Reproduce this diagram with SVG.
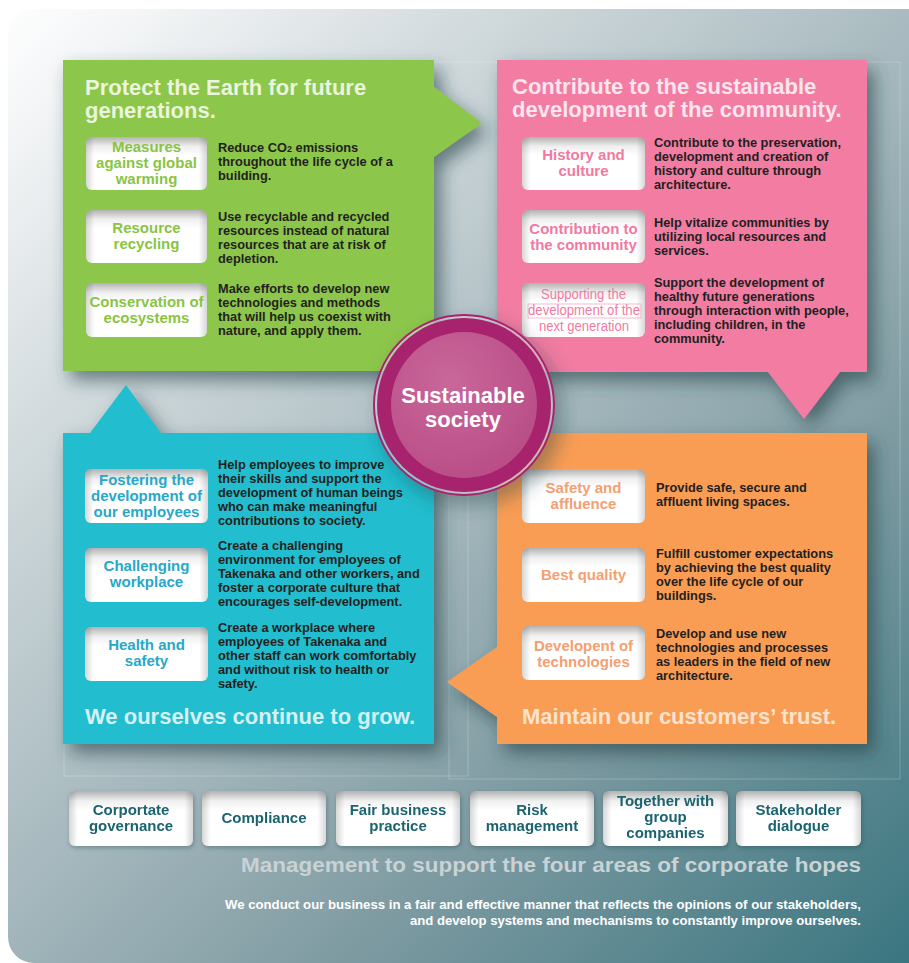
<svg xmlns="http://www.w3.org/2000/svg" width="909" height="963" viewBox="0 0 909 963">
<defs>
<linearGradient id="bg" gradientUnits="userSpaceOnUse" x1="0" y1="0" x2="909" y2="963">
<stop offset="0" stop-color="#ffffff"/>
<stop offset="0.08" stop-color="#f3f5f6"/>
<stop offset="0.25" stop-color="#d3dbde"/>
<stop offset="0.49" stop-color="#a8babf"/>
<stop offset="0.71" stop-color="#7d9aa1"/>
<stop offset="1" stop-color="#3a7680"/>
</linearGradient>
<linearGradient id="shV" x1="0" y1="0" x2="0" y2="1">
<stop offset="0" stop-color="#000" stop-opacity="0.3"/>
<stop offset="0.18" stop-color="#000" stop-opacity="0.06"/>
<stop offset="0.35" stop-color="#000" stop-opacity="0"/>
</linearGradient>
<linearGradient id="shH" x1="0" y1="0" x2="1" y2="0">
<stop offset="0" stop-color="#000" stop-opacity="0.16"/>
<stop offset="0.07" stop-color="#000" stop-opacity="0"/>
<stop offset="0.93" stop-color="#000" stop-opacity="0"/>
<stop offset="1" stop-color="#000" stop-opacity="0.16"/>
</linearGradient>
<radialGradient id="core" cx="0.4" cy="0.35" r="0.7">
<stop offset="0" stop-color="#c9679a"/>
<stop offset="1" stop-color="#b94d86"/>
</radialGradient>
<filter id="drop" x="-20%" y="-20%" width="150%" height="150%">
<feDropShadow dx="7" dy="9" stdDeviation="9" flood-color="#1b3a40" flood-opacity="0.6"/>
</filter>
<filter id="btnDrop" x="-20%" y="-20%" width="140%" height="150%">
<feDropShadow dx="1" dy="2" stdDeviation="2" flood-color="#1b3a40" flood-opacity="0.35"/>
</filter>
<style>
text{font-family:"Liberation Sans",Arial,sans-serif;font-weight:bold}
.title{font-size:22px}
.desc{font-size:12.8px;fill:#231f20}
.lbl{font-size:15px;text-anchor:middle}
.btn{font-size:15px;fill:#1b6470;text-anchor:middle}
.box{fill:#ffffff}
.sv{fill:url(#shV)}
.sh{fill:url(#shH)}
.guide{fill:none;stroke:#ffffff;stroke-opacity:0.22;stroke-width:1}
.g-l{fill:#8ac443}
.p-l{fill:#f07aa0}
.c-l{fill:#27a8c8}
.o-l{fill:#f3a072}
.cond{font-weight:normal;font-size:15.5px}
</style>
</defs>

<rect x="8" y="9" width="930" height="954" rx="26" fill="url(#bg)"/>
<path class="guide" d="M434,62 H497 M867,62 H900 V779 M64,430 V776 H468 V430 M449,430 V779 H900"/>

<g id="panel-earth">
<path d="M63,60 H434 V87 L482,123 L434,157 V371 H63 Z" fill="#8cc64b" filter="url(#drop)"/>
<text class="title" fill="#eaf5dc" x="85" y="95">Protect the Earth for future</text>
<text class="title" fill="#eaf5dc" x="85" y="118">generations.</text>
<g id="item-warming">
<rect class="box" x="86" y="137" width="121" height="53" rx="6"/><rect class="sv" x="86" y="137" width="121" height="53" rx="6"/><rect class="sh" x="86" y="137" width="121" height="53" rx="6"/>
<text class="lbl g-l" x="146.5" y="152">Measures</text>
<text class="lbl g-l" x="146.5" y="168">against global</text>
<text class="lbl g-l" x="146.5" y="184">warming</text>
<text class="desc" x="218" y="152">Reduce CO<tspan font-size="9">2</tspan> emissions</text>
<text class="desc" x="218" y="166">throughout the life cycle of a</text>
<text class="desc" x="218" y="180">building.</text>
</g>
<g id="item-recycling">
<rect class="box" x="86" y="210" width="121" height="53" rx="6"/><rect class="sv" x="86" y="210" width="121" height="53" rx="6"/><rect class="sh" x="86" y="210" width="121" height="53" rx="6"/>
<text class="lbl g-l" x="146.5" y="233">Resource</text>
<text class="lbl g-l" x="146.5" y="249">recycling</text>
<text class="desc" x="218" y="221">Use recyclable and recycled</text>
<text class="desc" x="218" y="235">resources instead of natural</text>
<text class="desc" x="218" y="249">resources that are at risk of</text>
<text class="desc" x="218" y="263">depletion.</text>
</g>
<g id="item-ecosystems">
<rect class="box" x="86" y="283" width="121" height="54" rx="6"/><rect class="sv" x="86" y="283" width="121" height="54" rx="6"/><rect class="sh" x="86" y="283" width="121" height="54" rx="6"/>
<text class="lbl g-l" x="146.5" y="307">Conservation of</text>
<text class="lbl g-l" x="146.5" y="323">ecosystems</text>
<text class="desc" x="218" y="293">Make efforts to develop new</text>
<text class="desc" x="218" y="307">technologies and methods</text>
<text class="desc" x="218" y="321">that will help us coexist with</text>
<text class="desc" x="218" y="335">nature, and apply them.</text>
</g>
</g>

<g id="panel-community">
<path d="M497,60 H867 V372 H840 L804,419 L768,372 H497 Z" fill="#f27ca2" filter="url(#drop)"/>
<text class="title" fill="#fde5ee" x="512" y="94">Contribute to the sustainable</text>
<text class="title" fill="#fde5ee" x="512" y="117">development of the community.</text>
<g id="item-history">
<rect class="box" x="522" y="137" width="123" height="53" rx="6"/><rect class="sv" x="522" y="137" width="123" height="53" rx="6"/><rect class="sh" x="522" y="137" width="123" height="53" rx="6"/>
<text class="lbl p-l" x="583.5" y="160">History and</text>
<text class="lbl p-l" x="583.5" y="176">culture</text>
<text class="desc" x="654" y="147">Contribute to the preservation,</text>
<text class="desc" x="654" y="161">development and creation of</text>
<text class="desc" x="654" y="175">history and culture through</text>
<text class="desc" x="654" y="189">architecture.</text>
</g>
<g id="item-contribution">
<rect class="box" x="522" y="210" width="123" height="53" rx="6"/><rect class="sv" x="522" y="210" width="123" height="53" rx="6"/><rect class="sh" x="522" y="210" width="123" height="53" rx="6"/>
<text class="lbl p-l" x="583.5" y="234">Contribution to</text>
<text class="lbl p-l" x="583.5" y="250">the community</text>
<text class="desc" x="654" y="227">Help vitalize communities by</text>
<text class="desc" x="654" y="241">utilizing local resources and</text>
<text class="desc" x="654" y="255">services.</text>
</g>
<g id="item-next-generation">
<rect class="box" x="522" y="283" width="123" height="54" rx="6"/><rect class="sv" x="522" y="283" width="123" height="54" rx="6"/><rect class="sh" x="522" y="283" width="123" height="54" rx="6"/>
<rect x="528" y="304" width="113" height="14" fill="none" stroke="#f5a8c2" stroke-width="0.8"/>
<text class="p-l cond" x="541" y="299" textLength="85" lengthAdjust="spacingAndGlyphs">Supporting the</text>
<text class="p-l cond" x="528" y="315" textLength="112" lengthAdjust="spacingAndGlyphs">development of the</text>
<text class="p-l cond" x="539" y="331" textLength="90" lengthAdjust="spacingAndGlyphs">next generation</text>
<text class="desc" x="654" y="287">Support the development of</text>
<text class="desc" x="654" y="301">healthy future generations</text>
<text class="desc" x="654" y="315">through interaction with people,</text>
<text class="desc" x="654" y="329">including children, in the</text>
<text class="desc" x="654" y="343">community.</text>
</g>
</g>

<g id="panel-employees">
<path d="M63,433 H90 L126,385 L161,433 H434 V744 H63 Z" fill="#21bdce" filter="url(#drop)"/>
<g id="item-fostering">
<rect class="box" x="85" y="469" width="123" height="54" rx="6"/><rect class="sv" x="85" y="469" width="123" height="54" rx="6"/><rect class="sh" x="85" y="469" width="123" height="54" rx="6"/>
<text class="lbl c-l" x="146.5" y="485">Fostering the</text>
<text class="lbl c-l" x="146.5" y="501">development of</text>
<text class="lbl c-l" x="146.5" y="517">our employees</text>
<text class="desc" x="218" y="469">Help employees to improve</text>
<text class="desc" x="218" y="483">their skills and support the</text>
<text class="desc" x="218" y="497">development of human beings</text>
<text class="desc" x="218" y="511">who can make meaningful</text>
<text class="desc" x="218" y="525">contributions to society.</text>
</g>
<g id="item-challenging">
<rect class="box" x="85" y="548" width="123" height="54" rx="6"/><rect class="sv" x="85" y="548" width="123" height="54" rx="6"/><rect class="sh" x="85" y="548" width="123" height="54" rx="6"/>
<text class="lbl c-l" x="146.5" y="571">Challenging</text>
<text class="lbl c-l" x="146.5" y="587">workplace</text>
<text class="desc" x="218" y="550">Create a challenging</text>
<text class="desc" x="218" y="564">environment for employees of</text>
<text class="desc" x="218" y="578">Takenaka and other workers, and</text>
<text class="desc" x="218" y="592">foster a corporate culture that</text>
<text class="desc" x="218" y="606">encourages self-development.</text>
</g>
<g id="item-health">
<rect class="box" x="85" y="627" width="123" height="54" rx="6"/><rect class="sv" x="85" y="627" width="123" height="54" rx="6"/><rect class="sh" x="85" y="627" width="123" height="54" rx="6"/>
<text class="lbl c-l" x="146.5" y="650">Health and</text>
<text class="lbl c-l" x="146.5" y="666">safety</text>
<text class="desc" x="218" y="632">Create a workplace where</text>
<text class="desc" x="218" y="646">employees of Takenaka and</text>
<text class="desc" x="218" y="660">other staff can work comfortably</text>
<text class="desc" x="218" y="674">and without risk to health or</text>
<text class="desc" x="218" y="688">safety.</text>
</g>
<text class="title" fill="#d6f1f5" x="85" y="724">We ourselves continue to grow.</text>
</g>

<g id="panel-customers">
<path d="M497,433 H867 V744 H497 V717 L447,682 L497,647 Z" fill="#f99d55" filter="url(#drop)"/>
<g id="item-safety">
<rect class="box" x="522" y="469" width="123" height="54" rx="6"/><rect class="sv" x="522" y="469" width="123" height="54" rx="6"/><rect class="sh" x="522" y="469" width="123" height="54" rx="6"/>
<text class="lbl o-l" x="583.5" y="493">Safety and</text>
<text class="lbl o-l" x="583.5" y="509">affluence</text>
<text class="desc" x="656" y="492">Provide safe, secure and</text>
<text class="desc" x="656" y="506">affluent living spaces.</text>
</g>
<g id="item-quality">
<rect class="box" x="522" y="548" width="123" height="54" rx="6"/><rect class="sv" x="522" y="548" width="123" height="54" rx="6"/><rect class="sh" x="522" y="548" width="123" height="54" rx="6"/>
<text class="lbl o-l" x="583.5" y="580">Best quality</text>
<text class="desc" x="656" y="558">Fulfill customer expectations</text>
<text class="desc" x="656" y="572">by achieving the best quality</text>
<text class="desc" x="656" y="586">over the life cycle of our</text>
<text class="desc" x="656" y="600">buildings.</text>
</g>
<g id="item-technologies">
<rect class="box" x="522" y="626" width="123" height="54" rx="6"/><rect class="sv" x="522" y="626" width="123" height="54" rx="6"/><rect class="sh" x="522" y="626" width="123" height="54" rx="6"/>
<text class="lbl o-l" x="583.5" y="651">Developent of</text>
<text class="lbl o-l" x="583.5" y="667">technologies</text>
<text class="desc" x="656" y="638">Develop and use new</text>
<text class="desc" x="656" y="652">technologies and processes</text>
<text class="desc" x="656" y="666">as leaders in the field of new</text>
<text class="desc" x="656" y="680">architecture.</text>
</g>
<text class="title" fill="#fde3cd" x="522" y="724">Maintain our customers’ trust.</text>
</g>

<g id="connectors"></g>

<g id="hub">
<circle cx="464" cy="405" r="90" fill="#cfd6d9" fill-opacity="0.6" stroke="#a8246e" stroke-width="2" filter="url(#drop)"/>
<circle cx="464" cy="405" r="87" fill="#a8236d"/>
<circle cx="464" cy="405" r="73" fill="url(#core)"/>
<text x="463" y="403" fill="#ffffff" font-size="22" text-anchor="middle">Sustainable</text>
<text x="463" y="427" fill="#ffffff" font-size="22" text-anchor="middle">society</text>
</g>

<g id="btn-governance" filter="url(#btnDrop)">
<rect class="box" x="69" y="791" width="124" height="55" rx="6"/><rect class="sv" x="69" y="791" width="124" height="55" rx="6"/><rect class="sh" x="69" y="791" width="124" height="55" rx="6"/>
<text class="btn" x="131" y="815">Corportate</text>
<text class="btn" x="131" y="831">governance</text>
</g>
<g id="btn-compliance" filter="url(#btnDrop)">
<rect class="box" x="202" y="791" width="124" height="55" rx="6"/><rect class="sv" x="202" y="791" width="124" height="55" rx="6"/><rect class="sh" x="202" y="791" width="124" height="55" rx="6"/>
<text class="btn" x="264" y="823">Compliance</text>
</g>
<g id="btn-fair" filter="url(#btnDrop)">
<rect class="box" x="336" y="791" width="124" height="55" rx="6"/><rect class="sv" x="336" y="791" width="124" height="55" rx="6"/><rect class="sh" x="336" y="791" width="124" height="55" rx="6"/>
<text class="btn" x="398" y="815">Fair business</text>
<text class="btn" x="398" y="831">practice</text>
</g>
<g id="btn-risk" filter="url(#btnDrop)">
<rect class="box" x="470" y="791" width="124" height="55" rx="6"/><rect class="sv" x="470" y="791" width="124" height="55" rx="6"/><rect class="sh" x="470" y="791" width="124" height="55" rx="6"/>
<text class="btn" x="532" y="815">Risk</text>
<text class="btn" x="532" y="831">management</text>
</g>
<g id="btn-group" filter="url(#btnDrop)">
<rect class="box" x="603" y="791" width="125" height="55" rx="6"/><rect class="sv" x="603" y="791" width="125" height="55" rx="6"/><rect class="sh" x="603" y="791" width="125" height="55" rx="6"/>
<text class="btn" x="665.5" y="806">Together with</text>
<text class="btn" x="665.5" y="822">group</text>
<text class="btn" x="665.5" y="838">companies</text>
</g>
<g id="btn-stakeholder" filter="url(#btnDrop)">
<rect class="box" x="736" y="791" width="125" height="55" rx="6"/><rect class="sv" x="736" y="791" width="125" height="55" rx="6"/><rect class="sh" x="736" y="791" width="125" height="55" rx="6"/>
<text class="btn" x="798.5" y="815">Stakeholder</text>
<text class="btn" x="798.5" y="831">dialogue</text>
</g>

<g id="footer">
<text x="241" y="872" font-size="21" fill="#c9d2d5" textLength="620" lengthAdjust="spacingAndGlyphs">Management to support the four areas of corporate hopes</text>
<text x="225" y="909" font-size="12" fill="#ffffff" textLength="636" lengthAdjust="spacingAndGlyphs">We conduct our business in a fair and effective manner that reflects the opinions of our stakeholders,</text>
<text x="410" y="925" font-size="12" fill="#ffffff" textLength="451" lengthAdjust="spacingAndGlyphs">and develop systems and mechanisms to constantly improve ourselves.</text>
</g>
</svg>
